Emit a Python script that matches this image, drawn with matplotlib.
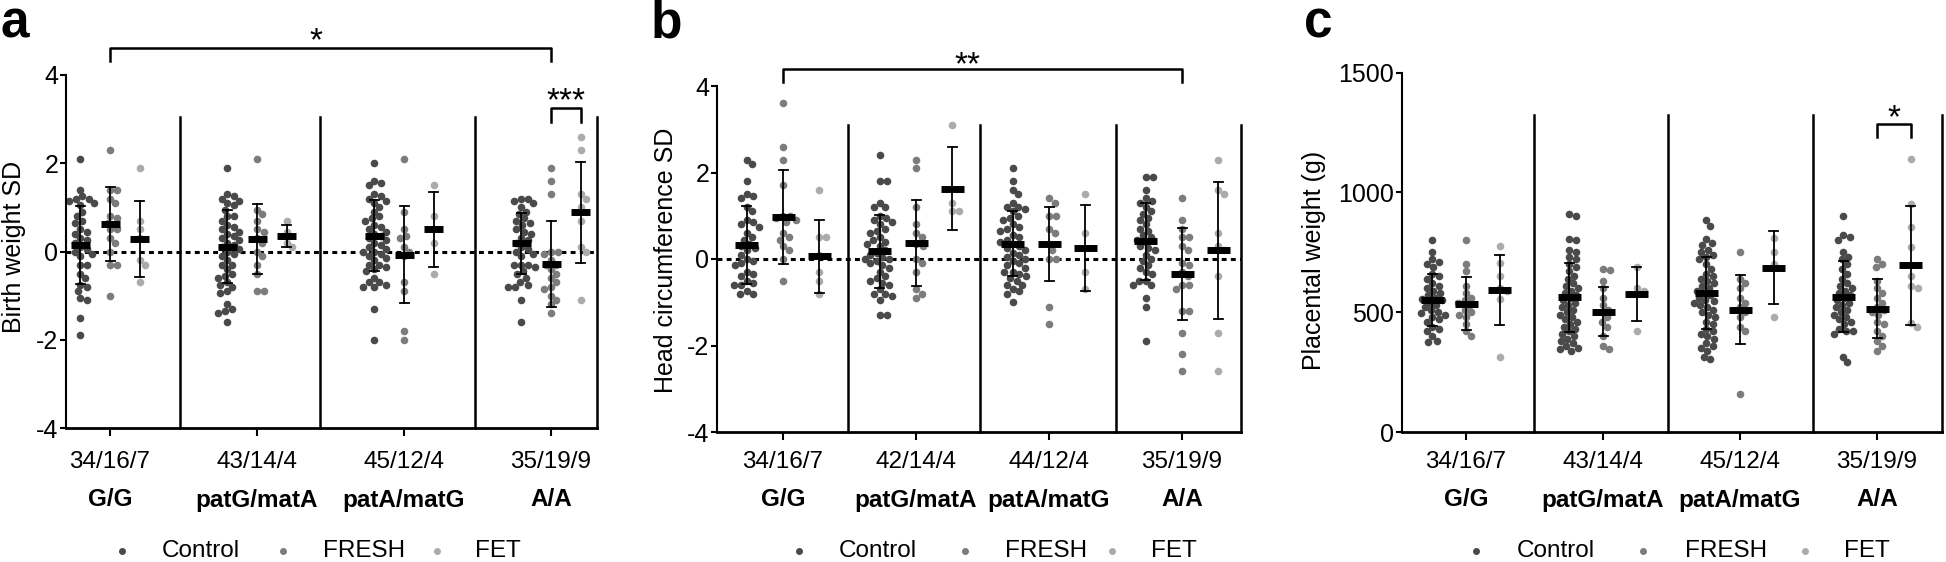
import numpy as np
import matplotlib.pyplot as plt
from matplotlib.transforms import blended_transform_factory

plt.rcParams["font.family"] = ["Liberation Sans", "DejaVu Sans"]

# -----------------------------
# Data
# -----------------------------
genotypes = ["G/G", "patG/matA", "patA/matG", "A/A"]
groups = ["Control", "FRESH", "FET"]

bw_counts = ["34/16/7", "43/14/4", "45/12/4", "35/19/9"]
hc_counts = ["34/16/7", "42/14/4", "44/12/4", "35/19/9"]
pw_counts = ["34/16/7", "43/14/4", "45/12/4", "35/19/9"]

# birth weight SD
bw_ctrl_GG = [2.1, 1.4, 1.25, 1.2, 1.2, 1.15, 1.1, 1.05, 0.9, 0.8, 0.7, 0.65, 0.5, 0.45, 0.4, 0.3, 0.25,
              0.2, 0.1, 0.05, 0.0, -0.05, -0.1, -0.3, -0.3, -0.5, -0.6, -0.75, -0.8, -0.9, -1.05, -1.1, -1.5, -1.9]
bw_fresh_GG = [2.3, 1.4, 1.4, 1.2, 1.1, 0.8, 0.75, 0.65, 0.5, 0.5, 0.3, 0.2, 0.0, -0.3, -0.3, -1.0]
bw_fet_GG = [1.9, 0.7, 0.5, 0.3, -0.2, -0.3, -0.7]
bw_ctrl_GA = [1.9, 1.3, 1.25, 1.2, 1.15, 1.1, 1.05, 0.95, 0.8, 0.8, 0.7, 0.6, 0.55, 0.5, 0.45, 0.4, 0.35,
              0.3, 0.25, 0.2, 0.15, 0.1, 0.05, 0.0, -0.05, -0.1, -0.2, -0.3, -0.3, -0.4, -0.5, -0.55, -0.6,
              -0.7, -0.75, -0.8, -0.9, -0.95, -1.2, -1.3, -1.35, -1.4, -1.6]
bw_fresh_GA = [2.1, 0.95, 0.85, 0.7, 0.5, 0.45, 0.3, 0.2, 0.0, -0.1, -0.3, -0.5, -0.9, -0.9]
bw_fet_GA = [0.7, 0.45, 0.2, 0.1]
bw_ctrl_AG = [2.0, 1.6, 1.55, 1.5, 1.3, 1.25, 1.2, 1.15, 1.1, 1.0, 0.9, 0.8, 0.75, 0.7, 0.6, 0.55, 0.5,
              0.45, 0.4, 0.35, 0.3, 0.25, 0.2, 0.15, 0.1, 0.05, 0.0, 0.0, -0.05, -0.1, -0.15, -0.2, -0.3,
              -0.3, -0.35, -0.4, -0.45, -0.6, -0.7, -0.7, -0.75, -0.8, -0.8, -1.3, -2.0]
bw_fresh_AG = [2.1, 0.9, 0.5, 0.35, 0.3, 0.1, 0.0, -0.1, -0.7, -0.9, -1.8, -2.0]
bw_fet_AG = [1.5, 0.8, 0.2, -0.5]
bw_ctrl_AA = [1.2, 1.2, 1.15, 1.1, 1.0, 0.9, 0.85, 0.75, 0.7, 0.65, 0.6, 0.5, 0.45, 0.4, 0.3, 0.25, 0.2,
              0.1, 0.05, 0.0, -0.05, -0.1, -0.3, -0.3, -0.3, -0.35, -0.45, -0.5, -0.6, -0.7, -0.75, -0.8,
              -0.8, -1.1, -1.6]
bw_fresh_AA = [1.9, 1.6, 1.3, 0.0, 0.0, -0.05, -0.2, -0.3, -0.3, -0.4, -0.5, -0.6, -0.7, -0.8, -0.85,
               -1.0, -1.1, -1.2, -1.4]
bw_fet_AA = [2.6, 2.3, 1.3, 1.2, 1.0, 0.7, 0.1, 0.0, -1.1]
bw_mean = [0.14, 0.63, 0.29, 0.11, 0.29, 0.36, 0.36, -0.07, 0.50, 0.19, -0.28, 0.89]
bw_sd = [0.88, 0.84, 0.86, 0.82, 0.79, 0.25, 0.81, 1.09, 0.85, 0.69, 0.98, 1.14]

# head circumference SD
hc_ctrl_GG = [2.3, 2.2, 1.8, 1.5, 1.45, 1.4, 1.2, 1.1, 0.9, 0.85, 0.8, 0.75, 0.6, 0.5, 0.45, 0.35, 0.3,
              0.25, 0.2, 0.1, 0.0, -0.05, -0.1, -0.15, -0.3, -0.35, -0.4, -0.5, -0.55, -0.6, -0.6, -0.75,
              -0.8, -0.8]
hc_fresh_GG = [3.6, 2.6, 2.3, 1.7, 1.0, 1.0, 0.95, 0.9, 0.85, 0.6, 0.5, 0.45, 0.3, 0.2, 0.0, -0.5]
hc_fet_GG = [1.6, 0.5, 0.5, 0.1, -0.3, -0.5, -0.8]
hc_ctrl_GA = [2.4, 1.8, 1.8, 1.3, 1.2, 1.2, 1.0, 0.95, 0.9, 0.85, 0.8, 0.7, 0.65, 0.6, 0.5, 0.45, 0.4,
              0.35, 0.3, 0.2, 0.15, 0.1, 0.05, 0.0, 0.0, -0.05, -0.1, -0.15, -0.2, -0.3, -0.4, -0.45,
              -0.5, -0.55, -0.6, -0.7, -0.8, -0.8, -0.85, -0.95, -1.3, -1.3]
hc_fresh_GA = [2.3, 2.1, 1.2, 0.8, 0.6, 0.5, 0.35, 0.3, 0.0, -0.1, -0.3, -0.7, -0.8, -0.9]
hc_fet_GA = [3.1, 1.3, 1.1, 1.1]
hc_ctrl_AG = [2.1, 1.8, 1.6, 1.5, 1.3, 1.2, 1.2, 1.15, 1.1, 1.0, 0.95, 0.9, 0.8, 0.75, 0.7, 0.65, 0.55,
              0.5, 0.45, 0.4, 0.35, 0.3, 0.25, 0.2, 0.15, 0.1, 0.05, 0.0, -0.05, -0.1, -0.15, -0.2, -0.3,
              -0.3, -0.35, -0.4, -0.45, -0.5, -0.6, -0.6, -0.7, -0.75, -0.8, -1.0]
hc_fresh_AG = [1.4, 1.3, 1.0, 1.0, 0.7, 0.6, 0.35, 0.2, 0.0, 0.0, -1.1, -1.5]
hc_fet_AG = [1.5, 0.6, -0.3, -0.7]
hc_ctrl_AA = [1.9, 1.9, 1.6, 1.4, 1.35, 1.3, 1.2, 1.1, 1.05, 0.95, 0.9, 0.8, 0.7, 0.65, 0.55, 0.5, 0.45,
              0.4, 0.3, 0.25, 0.2, 0.1, 0.0, -0.05, -0.15, -0.2, -0.3, -0.35, -0.5, -0.5, -0.6, -0.6,
              -0.9, -1.1, -1.9]
hc_fresh_AA = [1.4, 0.9, 0.7, 0.5, 0.5, 0.3, 0.2, -0.1, -0.15, -0.3, -0.4, -0.6, -0.6, -0.7, -1.2, -1.2,
               -1.7, -2.2, -2.6]
hc_fet_AA = [2.3, 1.6, 1.5, 0.6, 0.3, 0.2, -0.4, -1.7, -2.6]
hc_mean = [0.32, 0.97, 0.06, 0.18, 0.37, 1.63, 0.35, 0.35, 0.26, 0.41, -0.34, 0.20]
hc_sd = [0.90, 1.08, 0.85, 0.84, 1.00, 0.97, 0.75, 0.86, 0.99, 0.89, 1.06, 1.58]

# placental weight (g)
pw_ctrl_GG = [800, 750, 720, 710, 700, 690, 660, 650, 640, 620, 610, 600, 590, 580, 570, 560, 555, 550,
              540, 530, 520, 510, 500, 495, 490, 480, 470, 460, 440, 430, 420, 400, 380, 375]
pw_fresh_GG = [800, 700, 670, 610, 580, 560, 550, 540, 530, 510, 500, 490, 480, 450, 420, 400]
pw_fet_GG = [775, 705, 650, 600, 590, 555, 315]
pw_ctrl_GA = [910, 900, 805, 800, 760, 750, 730, 720, 700, 690, 670, 650, 640, 620, 610, 600, 590, 580,
              570, 560, 550, 540, 530, 520, 510, 500, 490, 480, 470, 460, 450, 440, 430, 420, 410, 400,
              390, 380, 370, 360, 350, 345, 340]
pw_fresh_GA = [680, 675, 630, 600, 560, 530, 510, 500, 480, 460, 440, 400, 360, 345]
pw_fet_GA = [690, 600, 590, 420]
pw_ctrl_AG = [885, 860, 805, 790, 780, 760, 750, 740, 730, 720, 700, 680, 660, 650, 640, 630, 620, 610,
              600, 590, 580, 570, 560, 550, 545, 540, 530, 520, 510, 500, 490, 480, 460, 450, 430, 420,
              410, 400, 390, 370, 360, 350, 340, 315, 305]
pw_fresh_AG = [750, 640, 620, 600, 560, 540, 520, 500, 480, 440, 420, 160]
pw_fet_AG = [810, 750, 700, 480]
pw_ctrl_AA = [900, 820, 815, 800, 750, 730, 720, 700, 680, 660, 640, 620, 610, 600, 590, 580, 570, 560,
              550, 540, 530, 520, 510, 500, 490, 480, 470, 460, 450, 430, 420, 420, 410, 315, 290]
pw_fresh_AA = [720, 700, 690, 630, 600, 580, 560, 540, 520, 510, 500, 490, 460, 450, 420, 400, 380, 360, 340]
pw_fet_AA = [1140, 950, 855, 770, 650, 610, 600, 455, 440]
pw_mean = [550, 535, 592, 562, 502, 575, 580, 510, 685, 565, 515, 695]
pw_sd = [109, 111, 145, 145, 103, 113, 151, 143, 153, 148, 123, 250]

bw_groups = [bw_ctrl_GG, bw_fresh_GG, bw_fet_GG, bw_ctrl_GA, bw_fresh_GA, bw_fet_GA,
             bw_ctrl_AG, bw_fresh_AG, bw_fet_AG, bw_ctrl_AA, bw_fresh_AA, bw_fet_AA]
hc_groups = [hc_ctrl_GG, hc_fresh_GG, hc_fet_GG, hc_ctrl_GA, hc_fresh_GA, hc_fet_GA,
             hc_ctrl_AG, hc_fresh_AG, hc_fet_AG, hc_ctrl_AA, hc_fresh_AA, hc_fet_AA]
pw_groups = [pw_ctrl_GG, pw_fresh_GG, pw_fet_GG, pw_ctrl_GA, pw_fresh_GA, pw_fet_GA,
             pw_ctrl_AG, pw_fresh_AG, pw_fet_AG, pw_ctrl_AA, pw_fresh_AA, pw_fet_AA]

# -----------------------------
# Layout (figure pixels)
# -----------------------------
W, H = 1946, 562
colors = ["#4a4a4a", "#7c7c7c", "#ababab"]
FS = 17.5

fig = plt.figure(figsize=(W / 100, H / 100), dpi=100)


def fx(px):
    return px / W


def fy(py):
    return 1 - py / H


def swarm(ax, x0, values, d=7.0):
    # simple beeswarm in pixel space, returns x positions in data units
    vals = np.asarray(values, dtype=float)
    ys = ax.transData.transform(np.column_stack([np.full(len(vals), x0), vals]))[:, 1]
    px_per_x = ax.transData.transform((1, 0))[0] - ax.transData.transform((0, 0))[0]
    offs = np.zeros(len(vals))
    placed = []
    for i in np.argsort(-vals, kind="stable"):
        y = ys[i]
        near = [(px, py) for px, py in placed if abs(py - y) < d]
        cands = [0.0]
        for px, py in near:
            dx = np.sqrt(d ** 2 - (py - y) ** 2)
            cands += [px + dx, px - dx]
        cands.sort(key=abs)
        for c in cands:
            if all((c - px) ** 2 + (y - py) ** 2 >= d ** 2 - 1e-6 for px, py in near):
                offs[i] = c
                placed.append((c, y))
                break
    return x0 + offs / px_per_x


panels = [
    dict(box=(66, 597, 75, 428), tick0=110, step=147, ylim=(-4, 4), yticks=[-4, -2, 0, 2, 4],
         w=0.204, bar=9.5, seps=[0.476, 1.429, 2.483], sep_top=3.05, zero=True,
         ylabel="Birth weight SD", ylab=(14.5, 247), letter="a", letter_x=0,
         counts=bw_counts, groups=bw_groups, mean=bw_mean, sd=bw_sd,
         leg_m=[122, 283, 437], leg_t=[162, 323, 475]),
    dict(box=(717, 1241, 86, 432), tick0=783, step=133, ylim=(-4, 4), yticks=[-4, -2, 0, 2, 4],
         w=0.274, bar=11.5, seps=[0.489, 1.481, 2.504], sep_top=3.1, zero=True,
         ylabel="Head circumference SD", ylab=(666, 260), letter="b", letter_x=651,
         counts=hc_counts, groups=hc_groups, mean=hc_mean, sd=hc_sd,
         leg_m=[799, 965, 1112], leg_t=[839, 1005, 1151]),
    dict(box=(1402, 1942, 72.5, 432), tick0=1466, step=137, ylim=(0, 1500), yticks=[0, 500, 1000, 1500],
         w=0.248, bar=11.5, seps=[0.496, 1.474, 2.533], sep_top=1322, zero=False,
         ylabel="Placental weight (g)", ylab=(1314.5, 260), letter="c", letter_x=1304,
         counts=pw_counts, groups=pw_groups, mean=pw_mean, sd=pw_sd,
         leg_m=[1476, 1643, 1805], leg_t=[1517, 1685, 1844]),
]

axes = []
for p in panels:
    left, right, top, bottom = p["box"]
    ax = fig.add_axes([fx(left), fy(bottom), fx(right - left), (bottom - top) / H])
    xlim = ((left - p["tick0"]) / p["step"], (right - p["tick0"]) / p["step"])
    ax.set_xlim(xlim)
    ax.set_ylim(p["ylim"])
    axes.append(ax)

    cap = 4.5 / p["step"]
    bar = p["bar"] / p["step"]
    for idx, vals in enumerate(p["groups"]):
        g, k = divmod(idx, 3)
        x0 = g + (k - 1) * p["w"]
        xs = swarm(ax, x0, vals)
        ax.scatter(xs, vals, s=30, color=colors[k], linewidths=0, zorder=2)
        m, sd = p["mean"][idx], p["sd"][idx]
        ax.plot([x0, x0], [m - sd, m + sd], color="black", lw=1.3, zorder=3)
        for yy in (m - sd, m + sd):
            ax.plot([x0 - cap, x0 + cap], [yy, yy], color="black", lw=1.3, zorder=3)
        ax.plot([x0 - bar, x0 + bar], [m, m], color="black", lw=5, solid_capstyle="butt", zorder=4)

    # genotype separators + right border
    for s in p["seps"] + [xlim[1]]:
        ax.plot([s, s], [p["ylim"][0], p["sep_top"]], color="black", lw=1.8, clip_on=False, zorder=1)

    if p["zero"]:
        ax.axhline(0, color="black", lw=2.2, linestyle=(0, (1.6, 1.4)), zorder=1)

    ax.spines["top"].set_visible(False)
    ax.spines["right"].set_visible(False)
    ax.spines["left"].set_linewidth(1.5)
    ax.spines["bottom"].set_linewidth(2.0)
    ax.set_yticks(p["yticks"])
    ax.set_yticklabels([str(t) for t in p["yticks"]], fontsize=FS + 0.5)
    ax.tick_params(axis="y", length=4.5, width=1.5, pad=1)
    ax.set_xticks(range(4))
    ax.set_xticklabels([])
    ax.tick_params(axis="x", length=6, width=1.5)

    tr = blended_transform_factory(ax.transData, fig.transFigure)
    for g in range(4):
        ax.text(g, fy(462), p["counts"][g], transform=tr, ha="center", va="center", fontsize=FS)
        ax.text(g, fy(500), genotypes[g], transform=tr, ha="center", va="center",
                fontsize=FS, fontweight="bold")

    fig.text(fx(p["ylab"][0]), fy(p["ylab"][1]), p["ylabel"], rotation=90,
             ha="center", va="center", fontsize=FS + 0.5)
    fig.text(fx(p["letter_x"]), fy(37), p["letter"], ha="left", va="baseline",
             fontsize=37, fontweight="bold")

    # legend
    for k in range(3):
        fig.lines.append(plt.Line2D([fx(p["leg_m"][k])], [fy(551)], transform=fig.transFigure,
                                    marker="o", markersize=4, color=colors[k], linestyle="none"))
        fig.text(fx(p["leg_t"][k]), fy(551), groups[k], ha="left", va="center", fontsize=FS)

# -----------------------------
# Significance brackets
# -----------------------------
ax_a, ax_b, ax_c = axes
w_a, w_b, w_c = panels[0]["w"], panels[1]["w"], panels[2]["w"]
bk = dict(color="black", lw=1.8, clip_on=False)
star = dict(ha="center", va="baseline", fontsize=24)

ax_a.plot([0, 0, 3, 3], [4.32, 4.61, 4.61, 4.32], **bk)
ax_a.text(1.4, 4.57, "*", **star)
ax_a.plot([3, 3, 3 + w_a, 3 + w_a], [2.94, 3.25, 3.25, 2.94], **bk)
ax_a.text(3 + w_a / 2, 3.19, "***", **star)

ax_b.plot([0, 0, 3, 3], [4.09, 4.39, 4.39, 4.09], **bk)
ax_b.text(1.39, 4.28, "**", **star)

ax_c.plot([3, 3, 3 + w_c, 3 + w_c], [1231, 1285, 1285, 1231], **bk)
ax_c.text(3 + w_c / 2, 1272, "*", **star)

fig.savefig("out.png", dpi=100, facecolor="white")
